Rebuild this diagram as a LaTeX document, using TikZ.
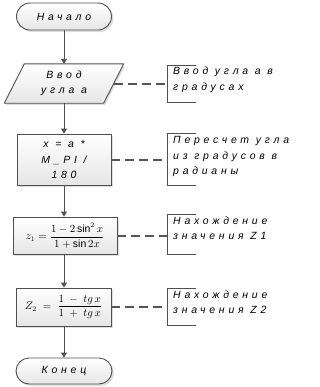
\documentclass[tikz,border=0pt]{standalone}
\usepackage{amsmath}
\usepackage{fontspec}
\setmainfont{Liberation Sans}
\newfontfamily\chartfont[LetterSpace=36]{Liberation Sans}
\usetikzlibrary{shapes.misc,arrows.meta}
\definecolor{edge}{HTML}{505050}
\definecolor{dashc}{HTML}{555555}
\tikzset{
  chart/.style={font=\chartfont\itshape\fontsize{10.5}{15.5}\selectfont, text=black},
  boxshade/.style={top color=white, bottom color=black!10, draw=edge, line width=0.9bp},
  termbox/.style={rounded rectangle, boxshade, minimum width=95bp, minimum height=27bp, inner sep=0pt, chart},
  termshadow/.style={rounded rectangle, fill=black!13, draw=none, minimum width=95bp, minimum height=27bp, inner sep=0pt},
  procbox/.style={rectangle, boxshade, inner sep=0pt, chart, align=center},
  flow/.style={draw=edge, line width=0.9bp, -{Triangle[length=5bp,width=6bp]}},
  note/.style={draw=edge, line width=0.9bp},
  notedash/.style={draw=dashc, line width=2bp, dash pattern=on 9bp off 5bp},
  notetext/.style={chart, anchor=north west, align=left, inner sep=0pt}
}
\begin{document}
\begin{tikzpicture}[x=1bp,y=-1bp]
\useasboundingbox (0,0) rectangle (320,387);
% shadows
\node[termshadow] (startshadow) at (66,18.5) {};
\fill[black!13] (26,66) -- (125,66) -- (105,105) -- (6,105) -- cycle;
\fill[black!13] (19,136) rectangle (113,187);
\fill[black!13] (15,219) rectangle (119,256);
\fill[black!13] (18,290) rectangle (113,328);
\node[termshadow, minimum width=96bp, minimum height=26bp] (stopshadow) at (66,373) {};

% start
\node[termbox] (start) at (64,16.5) {Начало};
% input (parallelogram drawn around a plain node)
\node[rectangle, minimum width=99bp, minimum height=39bp, inner sep=0pt] (input) at (64,83.5) {};
\path[boxshade] ([xshift=10bp]input.north west) -- ([xshift=10bp]input.north east)
   -- ([xshift=-10bp]input.south east) -- ([xshift=-10bp]input.south west) -- cycle;
\node[chart, align=center] (inputtext) at (input.center) {Ввод\\угла а};
% process boxes
\node[procbox, minimum width=94bp, minimum height=51bp] (proc1) at (64,159.5)
  {x = a *\\M\_PI /\\180};
\node[procbox, minimum width=104bp, minimum height=37bp] (proc2) at (65,235.5)
  {$z_1=\dfrac{1-2\sin^2 x}{1+\sin 2x}$};
\node[procbox, minimum width=95bp, minimum height=38bp] (proc3) at (63.5,307)
  {$Z_{2}\;=\;\dfrac{1\;-\;tg\,x}{1\;+\;tg\,x}$};
% end
\node[termbox, minimum width=96bp, minimum height=26bp] (stop) at (64,371) {Конец};

% flow arrows
\draw[flow] (start.south) -- (input.north);
\draw[flow] (input.south) -- (proc1.north);
\draw[flow] (proc1.south) -- (proc1.south |- proc2.north);
\draw[flow] (proc1.south |- proc2.south) -- (proc1.south |- proc3.north);
\draw[flow] (proc1.south |- proc3.south) -- (stop.north);

% comment brackets
\coordinate (b1) at (167,83.5);
\draw[note] (196,65) -- (167,65) -- (167,102) -- (196,102);
\node[notetext] (n1) at (173,67) {Ввод угла а в\\градусах};
\draw[notedash] (input.east) -- (b1);

\coordinate (b2) at (167,159.5);
\draw[note] (196,133) -- (167,133) -- (167,185) -- (196,185);
\node[notetext] (n2) at (173,136.5) {Пересчет угла\\из градусов в\\радианы};
\draw[notedash] (proc1.east) -- (b2);

\coordinate (b3) at (167,235.5);
\draw[note] (196,214) -- (167,214) -- (167,254) -- (196,254);
\node[notetext] (n3) at (173,216.5) {Нахождение\\значения Z1};
\draw[notedash] (proc2.east) -- (b3);

\coordinate (b4) at (167,307);
\draw[note] (196,288) -- (167,288) -- (167,325) -- (196,325);
\node[notetext] (n4) at (173,290.5) {Нахождение\\значения Z2};
\draw[notedash] (proc3.east) -- (b4);
\end{tikzpicture}
\end{document}
